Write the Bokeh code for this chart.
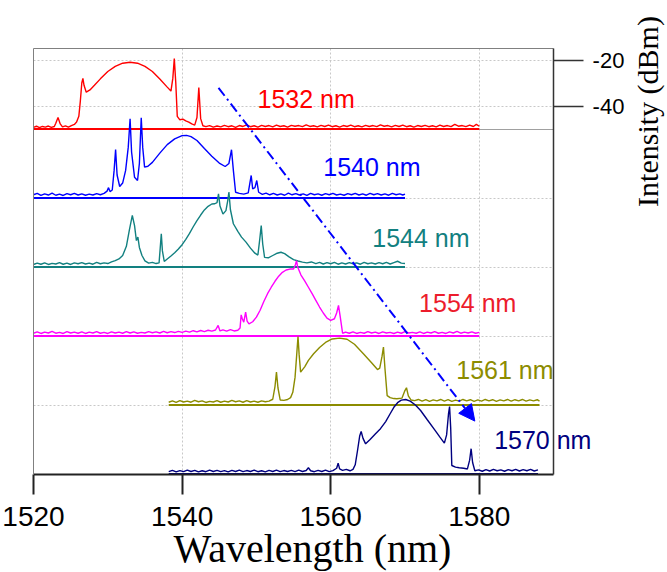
import math
from bokeh.plotting import figure
from bokeh.models import (Range1d, FixedTicker, Label, Arrow, NormalHead, Grid, LinearAxis)
from bokeh.embed import file_html
from bokeh.resources import INLINE

# ---------------- data (wavelength nm, intensity dBm) ----------------
RED = [(1520.0,-49.3),(1520.4,-48.8),(1520.8,-49.4),(1521.2,-48.9),(1521.6,-49.2),(1522.0,-48.7),(1522.4,-49.3),
(1522.8,-48.9),(1523.0,-47.5),(1523.3,-45.0),(1523.6,-47.8),(1523.9,-49.1),(1524.3,-48.6),(1524.7,-49.2),(1525.1,-48.5),
(1525.5,-48.0),(1525.8,-47.0),(1526.1,-44.5),(1526.3,-38.0),(1526.5,-30.0),(1526.65,-28.0),(1526.8,-31.0),(1527.1,-34.0),
(1527.6,-33.0),(1528.2,-31.0),(1529.0,-28.2),(1530.0,-25.0),(1531.0,-22.8),(1532.0,-21.4),(1533.0,-21.0),(1534.0,-21.4),
(1535.0,-22.8),(1536.0,-25.0),(1537.0,-28.3),(1538.0,-31.8),(1538.5,-33.5),(1538.75,-28.0),(1538.95,-19.4),(1539.15,-30.0),
(1539.35,-44.5),(1539.7,-46.0),(1540.1,-45.7),(1540.5,-46.5),(1540.9,-47.0),(1541.3,-47.8),(1541.7,-48.3),(1542.0,-45.0),
(1542.25,-32.0),(1542.5,-45.5),(1542.8,-48.6),(1543.2,-49.0),(1543.7,-48.5),(1544.2,-49.2),(1544.7,-48.7),(1545.2,-49.1),
(1545.7,-48.4),(1546.2,-49.0),(1546.7,-48.6),(1547.2,-49.3),(1547.7,-48.5),(1548.2,-48.9),(1548.7,-48.2),(1549.2,-49.0),
(1549.7,-48.6),(1550.2,-49.2),(1550.7,-48.4),(1551.2,-48.9),(1551.7,-48.5),(1552.2,-49.1),(1552.7,-48.3),(1553.2,-48.9),
(1553.7,-48.6),(1554.2,-49.2),(1554.7,-48.4),(1555.2,-48.8),(1555.7,-48.5),(1556.2,-49.0),(1556.7,-48.2),(1557.2,-48.9),
(1557.7,-48.6),(1558.2,-49.1),(1558.7,-48.4),(1559.2,-48.9),(1559.7,-48.3),(1560.2,-49.0),(1560.7,-48.6),(1561.2,-49.2),
(1561.7,-48.5),(1562.2,-48.9),(1562.7,-48.3),(1563.2,-49.0),(1563.7,-48.6),(1564.2,-49.1),(1564.7,-48.4),(1565.2,-48.9),
(1565.7,-48.5),(1566.2,-49.0),(1566.7,-48.2),(1567.2,-48.8),(1567.7,-48.5),(1568.2,-49.1),(1568.7,-48.4),(1569.2,-48.9),
(1569.7,-48.3),(1570.2,-49.0),(1570.7,-48.6),(1571.2,-49.2),(1571.7,-48.5),(1572.2,-48.9),(1572.7,-48.4),(1573.2,-49.0),
(1573.7,-48.6),(1574.2,-49.1),(1574.7,-48.3),(1575.2,-48.9),(1575.7,-48.5),(1576.2,-49.0),(1576.7,-48.0),(1577.2,-48.8),
(1577.7,-48.5),(1578.2,-49.0),(1578.7,-48.3),(1579.2,-48.9),(1579.6,-48.0),(1580.0,-48.8)]

BLUE = [(1520.0,-48.6),(1520.5,-48.0),(1521.0,-48.9),(1521.5,-48.2),(1522.0,-48.7),(1522.5,-47.9),(1523.0,-48.8),
(1523.5,-48.3),(1524.0,-48.9),(1524.5,-48.1),(1525.0,-48.6),(1525.5,-48.0),(1526.0,-48.7),(1526.5,-48.2),(1527.0,-48.8),
(1527.5,-48.3),(1528.0,-48.7),(1528.5,-48.1),(1529.0,-48.6),(1529.5,-48.0),(1529.9,-47.0),(1530.1,-45.5),(1530.3,-47.2),
(1530.6,-46.5),(1530.85,-38.0),(1531.05,-28.9),(1531.25,-40.0),(1531.6,-45.0),(1532.0,-43.5),(1532.4,-38.0),(1532.75,-28.0),
(1533.0,-15.6),(1533.2,-30.0),(1533.6,-41.0),(1534.0,-42.4),(1534.25,-35.0),(1534.5,-15.1),(1534.7,-28.0),(1534.95,-36.6),
(1535.4,-36.2),(1536.0,-34.5),(1537.0,-30.5),(1538.0,-26.8),(1539.0,-24.3),(1540.0,-22.9),(1540.6,-22.8),(1541.2,-23.3),
(1542.0,-25.0),(1543.0,-28.5),(1544.0,-31.8),(1545.0,-34.8),(1545.8,-36.3),(1546.3,-35.0),(1546.65,-29.0),(1546.9,-38.0),
(1547.2,-47.5),(1547.7,-48.0),(1548.3,-48.3),(1548.9,-47.8),(1549.1,-44.0),(1549.3,-40.2),(1549.5,-46.0),(1549.8,-45.5),
(1550.05,-42.4),(1550.3,-47.5),(1550.8,-48.4),(1551.3,-47.9),(1551.8,-48.6),(1552.3,-48.0),(1552.8,-48.7),(1553.3,-48.2),
(1553.8,-48.8),(1554.3,-47.9),(1554.8,-48.6),(1555.3,-48.1),(1555.8,-48.7),(1556.3,-48.2),(1556.8,-48.9),(1557.3,-48.0),
(1557.8,-48.6),(1558.3,-48.2),(1558.8,-48.8),(1559.3,-48.1),(1559.8,-48.6),(1560.3,-48.0),(1560.8,-48.7),(1561.3,-48.3),
(1561.8,-48.8),(1562.3,-48.1),(1562.8,-48.6),(1563.3,-48.0),(1563.8,-48.7),(1564.3,-48.2),(1564.8,-48.8),(1565.3,-48.0),
(1565.8,-48.6),(1566.3,-48.1),(1566.8,-48.7),(1567.3,-48.2),(1567.8,-48.8),(1568.3,-48.0),(1568.8,-48.6),(1569.3,-48.2),
(1569.7,-48.7),(1570.0,-48.3)]

TEAL = [(1520.0,-48.9),(1520.5,-48.3),(1521.0,-48.8),(1521.5,-48.2),(1522.0,-48.9),(1522.5,-48.4),(1523.0,-48.7),
(1523.5,-48.1),(1524.0,-48.8),(1524.5,-48.3),(1525.0,-48.9),(1525.5,-48.2),(1526.0,-48.6),(1526.5,-48.1),(1527.0,-48.7),
(1527.5,-48.3),(1528.0,-48.8),(1528.5,-48.0),(1529.0,-48.6),(1529.5,-48.2),(1530.0,-48.5),(1530.5,-47.8),(1531.0,-47.2),
(1531.5,-46.5),(1532.0,-45.0),(1532.5,-41.0),(1532.9,-34.0),(1533.3,-27.6),(1533.6,-32.0),(1533.85,-38.5),(1534.05,-37.0),
(1534.25,-41.5),(1534.6,-45.0),(1535.0,-47.3),(1535.5,-48.3),(1536.0,-48.0),(1536.5,-48.5),(1536.9,-48.2),(1537.05,-42.0),
(1537.2,-35.6),(1537.35,-43.0),(1537.6,-47.6),(1538.0,-46.5),(1538.5,-45.2),(1539.0,-43.8),(1539.5,-42.2),(1540.0,-40.3),
(1540.5,-38.0),(1541.0,-35.4),(1541.5,-32.5),(1542.0,-29.8),(1542.5,-27.4),(1543.0,-25.2),(1543.5,-23.6),(1544.0,-22.6),
(1544.4,-22.5),(1544.7,-22.0),(1544.9,-18.2),(1545.1,-23.5),(1545.5,-27.0),(1545.9,-25.5),(1546.15,-21.0),(1546.3,-17.4),
(1546.5,-25.0),(1546.9,-31.2),(1547.5,-34.5),(1548.0,-37.0),(1548.6,-39.2),(1549.2,-41.8),(1549.8,-44.0),(1550.2,-44.8),
(1550.45,-38.0),(1550.65,-32.0),(1550.85,-40.0),(1551.1,-45.8),(1551.6,-46.0),(1552.2,-45.0),(1552.8,-44.0),(1553.3,-43.6),
(1553.8,-44.2),(1554.4,-45.6),(1555.0,-46.8),(1555.6,-47.4),(1556.2,-47.9),(1556.8,-48.2),(1557.4,-47.8),(1558.0,-48.5),
(1558.5,-48.0),(1559.0,-48.7),(1559.5,-48.1),(1560.0,-48.6),(1560.5,-48.0),(1561.0,-48.8),(1561.5,-48.2),(1562.0,-48.7),
(1562.5,-48.1),(1563.0,-48.6),(1563.5,-48.2),(1564.0,-48.8),(1564.5,-48.0),(1565.0,-48.6),(1565.5,-48.2),(1566.0,-48.7),
(1566.5,-48.1),(1567.0,-48.6),(1567.5,-48.0),(1568.0,-48.7),(1568.5,-48.1),(1569.0,-47.5),(1569.5,-48.3),(1570.0,-48.5)]

MAGENTA = [(1520.0,-48.8),(1520.5,-48.2),(1521.0,-48.9),(1521.5,-48.3),(1522.0,-48.7),(1522.5,-48.0),(1523.0,-48.8),
(1523.5,-48.4),(1524.0,-48.9),(1524.5,-48.1),(1525.0,-48.7),(1525.5,-48.3),(1526.0,-48.8),(1526.5,-48.2),(1527.0,-48.9),
(1527.5,-48.3),(1528.0,-48.7),(1528.5,-48.1),(1529.0,-48.8),(1529.5,-48.4),(1530.0,-48.9),(1530.5,-48.2),(1531.0,-48.7),
(1531.5,-48.3),(1532.0,-48.8),(1532.5,-48.1),(1533.0,-48.7),(1533.5,-48.2),(1534.0,-48.8),(1534.5,-48.4),(1535.0,-48.7),
(1535.5,-48.1),(1536.0,-48.6),(1536.5,-48.2),(1537.0,-48.7),(1537.5,-48.0),(1538.0,-48.6),(1538.5,-48.1),(1539.0,-48.5),
(1539.5,-48.0),(1540.0,-48.4),(1540.5,-47.9),(1541.0,-48.3),(1541.5,-47.7),(1542.0,-48.2),(1542.5,-47.6),(1543.0,-48.1),
(1543.5,-47.5),(1544.0,-47.9),(1544.5,-47.4),(1544.85,-45.4),(1545.1,-47.8),(1545.5,-47.3),(1546.0,-47.9),(1546.5,-47.2),
(1547.0,-47.8),(1547.5,-47.5),(1547.8,-46.5),(1547.95,-40.8),(1548.1,-42.5),(1548.3,-44.0),(1548.55,-39.6),(1548.75,-43.5),
(1549.0,-44.7),(1549.5,-43.8),(1550.0,-41.8),(1550.5,-38.8),(1551.0,-35.0),(1551.5,-31.6),(1552.0,-28.8),(1552.5,-26.2),
(1553.0,-24.0),(1553.5,-22.3),(1554.0,-21.3),(1554.5,-20.9),(1555.0,-20.9),(1555.25,-19.0),(1555.4,-17.2),(1555.55,-20.0),
(1556.0,-23.5),(1556.5,-26.0),(1557.0,-28.8),(1557.5,-31.6),(1558.0,-34.5),(1558.5,-37.4),(1559.0,-40.0),(1559.5,-42.2),
(1560.0,-43.2),(1560.5,-42.5),(1560.8,-40.0),(1561.05,-36.7),(1561.3,-42.0),(1561.6,-48.8),(1562.0,-48.3),(1562.5,-48.8),
(1563.0,-48.2),(1563.5,-48.9),(1564.0,-48.4),(1564.5,-48.8),(1565.0,-48.1),(1565.5,-48.7),(1566.0,-48.3),(1566.5,-48.9),
(1567.0,-48.2),(1567.5,-48.7),(1568.0,-48.4),(1568.5,-48.9),(1569.0,-48.3),(1569.5,-48.8),(1570.0,-48.1),(1570.5,-48.7),
(1571.0,-48.4),(1571.5,-48.8),(1572.0,-48.2),(1572.5,-48.9),(1573.0,-48.3),(1573.5,-48.7),(1574.0,-48.1),(1574.5,-48.8),
(1575.0,-48.4),(1575.5,-48.9),(1576.0,-48.2),(1576.5,-48.7),(1577.0,-48.0),(1577.5,-48.8),(1578.0,-48.3),(1578.5,-48.7),
(1579.0,-48.2),(1579.5,-48.8),(1580.0,-48.4)]

OLIVE = [(1538.2,-48.8),(1538.7,-48.2),(1539.2,-48.9),(1539.7,-48.1),(1540.2,-48.7),(1540.7,-48.3),(1541.2,-48.8),
(1541.7,-48.0),(1542.2,-48.6),(1542.7,-48.2),(1543.2,-48.9),(1543.7,-48.4),(1544.2,-48.7),(1544.7,-48.1),(1545.2,-48.8),
(1545.7,-48.3),(1546.2,-48.7),(1546.7,-48.0),(1547.2,-48.6),(1547.7,-48.2),(1548.2,-48.8),(1548.7,-48.1),(1549.2,-48.7),
(1549.7,-48.3),(1550.2,-48.8),(1550.7,-48.2),(1551.2,-48.6),(1551.7,-48.3),(1552.2,-47.5),(1552.5,-42.0),(1552.7,-35.7),
(1552.9,-42.5),(1553.2,-47.8),(1553.7,-48.0),(1554.2,-47.6),(1554.6,-46.8),(1554.9,-44.5),(1555.2,-38.0),(1555.45,-27.0),
(1555.6,-20.2),(1555.75,-28.0),(1555.95,-35.7),(1556.5,-33.4),(1557.0,-30.6),(1557.7,-27.7),(1558.5,-25.0),(1559.3,-22.8),
(1560.2,-21.3),(1561.2,-20.9),(1562.2,-21.4),(1563.2,-23.6),(1564.4,-27.7),(1565.5,-31.6),(1566.3,-34.6),(1566.6,-34.0),
(1566.9,-29.0),(1567.1,-24.8),(1567.3,-34.0),(1567.6,-45.9),(1568.0,-46.8),(1568.5,-47.2),(1568.9,-47.3),(1569.6,-47.0),
(1569.95,-44.0),(1570.2,-42.5),(1570.45,-46.0),(1570.8,-47.8),(1571.3,-48.1),(1571.8,-47.6),(1572.3,-48.3),(1572.8,-47.7),
(1573.3,-48.4),(1573.8,-47.8),(1574.3,-48.2),(1574.8,-47.6),(1575.3,-48.3),(1575.8,-47.7),(1576.3,-48.4),(1576.8,-47.9),
(1577.3,-48.3),(1577.8,-47.6),(1578.3,-48.2),(1578.8,-47.7),(1579.3,-48.4),(1579.8,-47.8),(1580.3,-48.3),(1580.8,-47.6),
(1581.3,-48.2),(1581.8,-47.7),(1582.3,-48.4),(1582.8,-47.8),(1583.3,-48.2),(1583.8,-47.6),(1584.3,-48.3),(1584.8,-47.7),
(1585.3,-48.2),(1585.8,-47.6),(1586.3,-48.3),(1586.8,-47.8),(1587.3,-48.2),(1587.8,-47.7),(1588.1,-48.3)]

NAVY = [(1538.2,-49.0),(1538.7,-48.4),(1539.2,-49.1),(1539.7,-48.5),(1540.2,-49.0),(1540.7,-48.3),(1541.2,-48.9),
(1541.7,-48.4),(1542.2,-49.1),(1542.7,-48.6),(1543.2,-49.0),(1543.7,-48.3),(1544.2,-48.9),(1544.7,-48.4),(1545.2,-49.0),
(1545.7,-48.5),(1546.2,-49.1),(1546.7,-48.4),(1547.2,-48.9),(1547.7,-48.3),(1548.2,-49.0),(1548.7,-48.5),(1549.2,-48.9),
(1549.7,-48.3),(1550.2,-49.0),(1550.7,-48.6),(1551.2,-49.1),(1551.7,-48.4),(1552.2,-48.9),(1552.7,-48.3),(1553.2,-49.0),
(1553.7,-48.5),(1554.2,-48.9),(1554.7,-48.4),(1555.2,-49.0),(1555.7,-48.3),(1556.2,-48.9),(1556.7,-48.5),(1557.0,-47.3),
(1557.3,-48.6),(1557.8,-49.0),(1558.3,-48.4),(1558.8,-48.9),(1559.3,-48.3),(1559.8,-49.0),(1560.3,-48.5),(1560.8,-47.5),
(1561.0,-45.3),(1561.2,-47.8),(1561.6,-48.4),(1562.1,-48.0),(1562.6,-48.6),(1563.0,-48.0),(1563.3,-46.0),(1563.6,-40.0),
(1563.9,-33.5),(1564.1,-31.5),(1564.35,-34.5),(1564.7,-36.9),(1565.3,-35.0),(1566.0,-32.6),(1566.7,-30.3),(1567.4,-27.2),
(1568.0,-23.8),(1568.5,-21.0),(1569.0,-19.0),(1569.5,-17.9),(1570.1,-17.6),(1570.7,-18.3),(1571.4,-20.0),(1572.1,-22.4),
(1573.0,-26.4),(1574.0,-30.8),(1574.7,-34.0),(1575.3,-36.6),(1575.6,-33.0),(1575.85,-24.0),(1576.0,-20.7),(1576.15,-30.0),
(1576.3,-46.3),(1576.8,-47.0),(1577.3,-47.3),(1577.9,-47.5),(1578.4,-47.8),(1578.7,-44.0),(1578.9,-39.0),(1579.1,-45.0),
(1579.4,-48.6),(1579.9,-48.2),(1580.4,-48.8),(1580.9,-48.1),(1581.4,-48.7),(1581.9,-48.0),(1582.4,-48.6),(1582.9,-48.2),
(1583.4,-48.8),(1583.9,-48.1),(1584.4,-48.6),(1584.9,-48.0),(1585.4,-48.7),(1585.9,-48.1),(1586.4,-48.6),(1586.9,-48.0),
(1587.4,-48.7),(1587.9,-48.2)]

SPECTRA = [RED, BLUE, TEAL, MAGENTA, OLIVE, NAVY]
OFFSETS = [0, -30, -60, -90, -120, -150]          # vertical stacking offset (dB)
BASELINE_DBM = -50
LABELS = ["1532 nm", "1540 nm", "1544 nm", "1554 nm", "1561 nm", "1570 nm"]
LABEL_POS = [(1550.15, -36.9), (1559.0, -66.5), (1565.6, -97.4),
             (1571.9, -125.6), (1576.9, -154.8), (1582.0, -185.2)]
LINE_COLORS = ["#ff0000", "#0000ff", "#128080", "#ff00ff", "#8c8c00", "#000080"]
TEXT_COLORS = ["#ff0000", "#0000ff", "#128080", "#ec1c2c", "#8c8c00", "#000080"]

X_BOUNDS = (1520, 1590)
Y_BOUNDS = (-200, -15)
X_TICKS = [1520, 1540, 1560, 1580]
Y_TICKS = [-20, -40]
XGRID_TICKS = [1540, 1560, 1580]
YGRID_TICKS = [-20, -40, -80, -110, -140, -170]
ARROW_START = (1544.9, -32.1)
ARROW_END = (1579.4, -177.0)

SANS = "Liberation Sans"
SERIF = "Liberation Serif"

# canvas = frame; axes are drawn at fixed locations inside it
W, H = 667, 572
PX_PER_NM, PX_PER_DB = 7.43, 2.3
LEFT, TOP = 33, 48
x0 = X_BOUNDS[0] - LEFT / PX_PER_NM
x1 = x0 + W / PX_PER_NM
y1 = Y_BOUNDS[1] + TOP / PX_PER_DB
y0 = y1 - H / PX_PER_DB

p = figure(width=W, height=H, x_range=Range1d(x0, x1), y_range=Range1d(y0, y1),
           output_backend="svg", toolbar_location=None, y_axis_location="right",
           min_border=0, min_border_left=0, min_border_right=0, min_border_top=0, min_border_bottom=0)
p.background_fill_color = "white"
p.outline_line_color = None
p.xgrid.visible = False
p.ygrid.visible = False

# grids (restricted to the box)
has_cross = "cross_bounds" in Grid.properties()
def add_grid(dim, ticks, color, dash):
    kw = dict(dimension=dim, ticker=FixedTicker(ticks=ticks), grid_line_color=color,
              grid_line_dash=dash, grid_line_width=1)
    if has_cross:
        kw["cross_bounds"] = Y_BOUNDS if dim == 0 else X_BOUNDS
    kw["bounds"] = X_BOUNDS if dim == 0 else Y_BOUNDS
    p.add_layout(Grid(**kw))
add_grid(0, XGRID_TICKS, "#c8c8c8", "2 2")
add_grid(1, YGRID_TICKS, "#c8c8c8", "2 2")
add_grid(1, [BASELINE_DBM], "#a0a0a0", "solid")

# bottom axis
xa = p.xaxis[0]
xa.fixed_location = Y_BOUNDS[0]
xa.bounds = X_BOUNDS
xa.ticker = FixedTicker(ticks=X_TICKS)
xa.major_tick_out = 20
xa.major_tick_in = 0
xa.minor_tick_line_color = None
xa.axis_line_width = 2
xa.major_tick_line_width = 2
xa.axis_line_color = "#222222"
xa.major_tick_line_color = "#222222"
xa.major_label_text_font = SANS
xa.major_label_text_font_size = "28px"
xa.major_label_text_color = "black"
xa.major_label_standoff = 13

# right axis
ya = p.yaxis[0]
ya.fixed_location = X_BOUNDS[1]
ya.bounds = Y_BOUNDS
ya.ticker = FixedTicker(ticks=Y_TICKS)
ya.major_label_overrides = {t: str(t) for t in Y_TICKS}
ya.major_tick_out = 30
ya.major_tick_in = 0
ya.minor_tick_line_color = None
ya.axis_line_width = 1.5
ya.major_tick_line_width = 1.5
ya.axis_line_color = "#333333"
ya.major_tick_line_color = "#333333"
ya.major_label_text_font = SANS
ya.major_label_text_font_size = "22px"
ya.major_label_text_color = "black"
ya.major_label_standoff = 9

# top and left box edges (tick-less axes)
top_ax = LinearAxis(fixed_location=Y_BOUNDS[1], bounds=X_BOUNDS, ticker=FixedTicker(ticks=[]),
                    axis_line_color="#808080", axis_line_width=1, major_tick_line_color=None,
                    minor_tick_line_color=None, major_label_text_color=None)
left_ax = LinearAxis(fixed_location=X_BOUNDS[0], bounds=Y_BOUNDS, ticker=FixedTicker(ticks=[]),
                     axis_line_color="#808080", axis_line_width=1, major_tick_line_color=None,
                     minor_tick_line_color=None, major_label_text_color=None)
p.add_layout(top_ax, "above")
p.add_layout(left_ax, "left")

# spectra
for spec, off, col in zip(SPECTRA, OFFSETS, LINE_COLORS):
    xs = [w for w, _ in spec]
    ys = [d + off for _, d in spec]
    p.line([xs[0], xs[-1]], [BASELINE_DBM + off, BASELINE_DBM + off], line_color=col, line_width=2)
    p.line(xs, ys, line_color=col, line_width=1.4)

for txt, (lx, ly), col in zip(LABELS, LABEL_POS, TEXT_COLORS):
    p.add_layout(Label(x=lx, y=ly, text=txt, text_font=SANS, text_font_size="25px",
                       text_color=col, text_align="left", text_baseline="alphabetic"))

p.add_layout(Arrow(x_start=ARROW_START[0], y_start=ARROW_START[1], x_end=ARROW_END[0], y_end=ARROW_END[1],
                   line_color="#0000ff", line_width=2, line_dash="10 4 2 4",
                   end=NormalHead(size=16, fill_color="#0000ff", line_color="#0000ff")))

# axis titles
p.add_layout(Label(x=1557.55, y=-232.4, text="Wavelength (nm)", text_font=SERIF,
                   text_font_size="40px", text_color="black", text_align="center",
                   text_baseline="alphabetic"))
p.add_layout(Label(x=1602.7, y=-42.4, text="Intensity (dBm)", text_font=SERIF,
                   text_font_size="30px", text_color="black", text_align="center",
                   text_baseline="middle", angle=math.pi / 2))

open("out.html", "w").write(file_html(p, INLINE))
